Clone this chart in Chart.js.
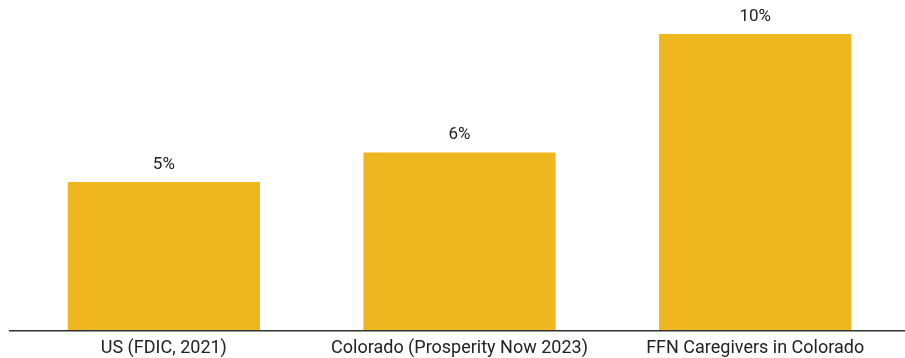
<!DOCTYPE html>
<html>
<head>
<meta charset="utf-8">
<script src="https://cdn.jsdelivr.net/npm/chart.js@4/dist/chart.umd.min.js"></script>
<style>
  html, body { margin: 0; padding: 0; background: #fff; }
  #wrap { position: relative; width: 905px; height: 358px; }
</style>
</head>
<body>
<div id="wrap"><canvas id="chart"></canvas></div>
<script>
// Share of households without a bank account
const categories = ['US (FDIC, 2021)', 'Colorado (Prosperity Now 2023)', 'FFN Caregivers in Colorado'];
const percentValues = [5, 6, 10];
const valueLabels = ['5%', '6%', '10%'];

const barColor = '#EEB720';
const textColor = '#222222';

// Baseline rule drawn across the full width
const baselinePlugin = {
  id: 'baseline',
  afterDatasetsDraw(chart) {
    const { ctx, chartArea } = chart;
    ctx.save();
    ctx.strokeStyle = '#333333';
    ctx.lineWidth = 1.5;
    ctx.beginPath();
    ctx.moveTo(9, chartArea.bottom + 0.75);
    ctx.lineTo(chart.width, chartArea.bottom + 0.75);
    ctx.stroke();
    ctx.restore();
  }
};

// Value labels above each bar
const valueLabelPlugin = {
  id: 'valueLabels',
  afterDatasetsDraw(chart) {
    const { ctx } = chart;
    const meta = chart.getDatasetMeta(0);
    ctx.save();
    ctx.font = '17px Roboto, "Noto Sans", sans-serif';
    ctx.fillStyle = textColor;
    ctx.textAlign = 'center';
    ctx.textBaseline = 'bottom';
    meta.data.forEach((bar, i) => {
      ctx.fillText(valueLabels[i], bar.x, bar.y - 9);
    });
    ctx.restore();
  }
};

new Chart(document.getElementById('chart'), {
  type: 'bar',
  data: {
    labels: categories,
    datasets: [{
      data: percentValues,
      backgroundColor: barColor,
      borderWidth: 0,
      categoryPercentage: 0.65,
      barPercentage: 1.0
    }]
  },
  options: {
    responsive: true,
    maintainAspectRatio: false,
    animation: false,
    layout: { padding: { top: 34, left: 16, right: 2, bottom: 0 } },
    plugins: { legend: { display: false }, tooltip: { enabled: false } },
    scales: {
      x: {
        grid: { display: false, drawTicks: false },
        border: { display: false },
        ticks: {
          color: textColor,
          padding: 8,
          font: { family: 'Roboto, "Noto Sans", sans-serif', size: 18 },
          maxRotation: 0,
          autoSkip: false
        },
        afterFit(scale) { scale.height = 28; }
      },
      y: {
        display: false,
        min: 0,
        max: 10
      }
    }
  },
  plugins: [baselinePlugin, valueLabelPlugin]
});
</script>
</body>
</html>
